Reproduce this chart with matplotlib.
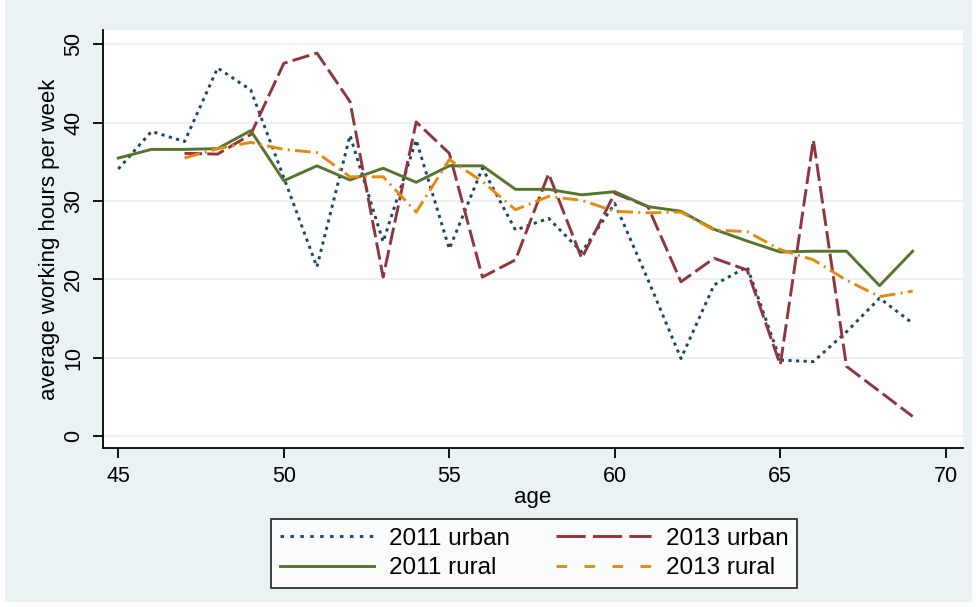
import matplotlib.pyplot as plt
from matplotlib.lines import Line2D
from matplotlib.patches import Rectangle

plt.rcParams['font.family'] = ['Liberation Sans', 'DejaVu Sans']

ages_2011 = list(range(45, 70))
ages_2013 = list(range(47, 70))

urban_2011 = [34.1, 38.9, 37.6, 47.0, 44.2, 33.0, 21.6, 38.4, 24.8, 37.8, 23.9, 34.2, 26.3,
              27.8, 23.5, 29.7, 20.0, 9.9, 19.3, 21.6, 9.7, 9.5, 13.3, 17.6, 14.4]
rural_2011 = [35.5, 36.6, 36.6, 36.7, 39.0, 32.6, 34.5, 32.7, 34.2, 32.4, 34.5, 34.5, 31.5,
              31.5, 30.8, 31.2, 29.3, 28.7, 26.4, 24.9, 23.5, 23.6, 23.6, 19.2, 23.6]
urban_2013 = [36.1, 36.0, 38.5, 47.6, 48.9, 42.7, 20.3, 40.1, 36.1, 20.3, 22.5, 33.5,
              22.7, 31.0, 29.3, 19.7, 22.7, 21.2, 9.1, 37.8, 8.9, 5.7, 2.5]
rural_2013 = [35.5, 36.7, 37.5, 36.6, 36.2, 33.1, 33.1, 28.6, 35.3, 32.5, 28.9, 30.6,
              30.1, 28.7, 28.5, 28.6, 26.3, 26.1, 23.8, 22.5, 19.9, 17.8, 18.5]

navy = '#1a476f'
maroon = '#90353b'
green = '#55752f'
orange = '#e8890c'
bg = '#eaf2f3'

fig = plt.figure(figsize=(9.77, 6.07), dpi=100, facecolor='white')
fig.patches.append(Rectangle((0.005, 0.008), 0.99, 0.992, transform=fig.transFigure,
                             facecolor=bg, edgecolor='none', zorder=-10))
ax = fig.add_axes([0.1052, 0.2614, 0.8801, 0.6892])
ax.set_facecolor('white')

lw = 2.1
ax.plot(ages_2011, urban_2011, color=navy, lw=lw, linestyle=(0, (1.1, 1.5)))
ax.plot(ages_2013, urban_2013, color=maroon, lw=lw, linestyle=(0, (6.0, 1.8)))
ax.plot(ages_2011, rural_2011, color=green, lw=lw, linestyle='-')
ax.plot(ages_2013, rural_2013, color=orange, lw=lw, linestyle=(0, (5.4, 1.8, 0.7, 1.8)))

ax.set_xlim(44.53, 70.51)
ax.set_ylim(-1.57, 51.85)
ax.set_xticks([45, 50, 55, 60, 65, 70])
ax.set_yticks([0, 10, 20, 30, 40, 50])
ax.grid(axis='y', color=bg, lw=1.5)
ax.set_axisbelow(True)

for side in ['top', 'right']:
    ax.spines[side].set_visible(False)
for side in ['left', 'bottom']:
    ax.spines[side].set_linewidth(1.3)
ax.tick_params(axis='both', length=7.5, width=1.3, labelsize=15.5, color='black')
ax.tick_params(axis='x', pad=5)
ax.tick_params(axis='y', pad=6)
for lab in ax.get_yticklabels():
    lab.set_rotation(90)
    lab.set_va('center')

ax.set_xlabel('age', fontsize=16, labelpad=0)
ax.set_ylabel('average working hours per week', fontsize=16, labelpad=2)

# legend fills column by column: left column is 2011, right column is 2013
handles = [
    Line2D([], [], color=navy, lw=lw, linestyle=(0, (1.2, 2.2))),
    Line2D([], [], color=green, lw=lw, linestyle='-'),
    Line2D([], [], color=maroon, lw=lw, linestyle=(0, (10, 2.5))),
    Line2D([], [], color=orange, lw=lw, linestyle=(0, (3.6, 6))),
]
labels = ['2011 urban', '2011 rural', '2013 urban', '2013 rural']
leg = fig.legend(handles, labels, ncol=2, loc='center', bbox_to_anchor=(0.5466, 0.0881),
                 bbox_transform=fig.transFigure, fontsize=17.5, frameon=True, fancybox=False,
                 handlelength=3.9, handletextpad=0.6, columnspacing=1.9, labelspacing=0.3,
                 borderpad=0.35)
leg.get_frame().set_edgecolor('black')
leg.get_frame().set_linewidth(1.3)
leg.get_frame().set_facecolor('white')

fig.savefig('out.png', dpi=100, facecolor=fig.get_facecolor())
